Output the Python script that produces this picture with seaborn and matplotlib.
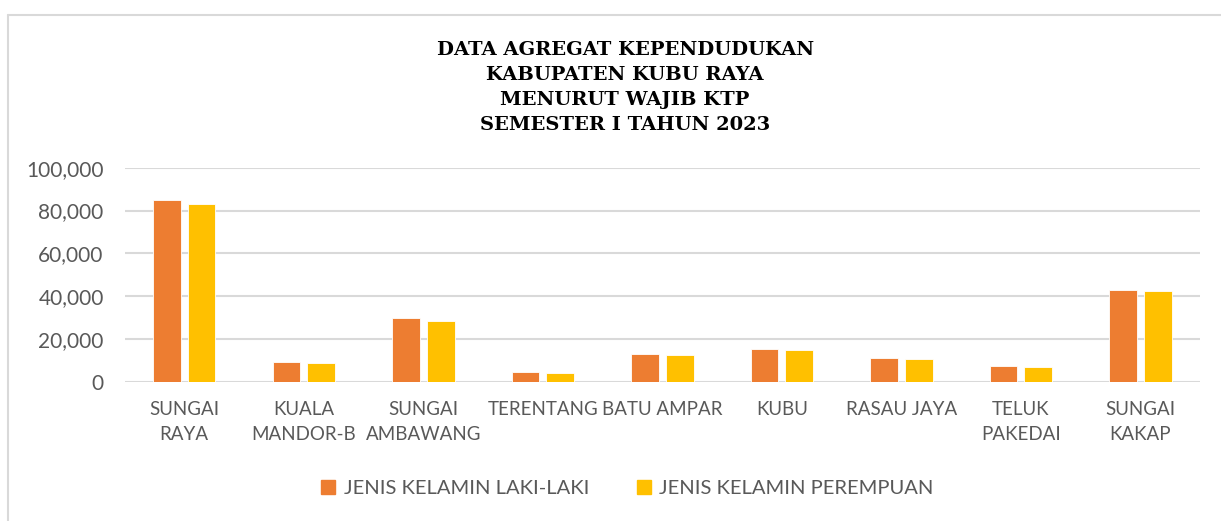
import pandas as pd
import matplotlib.pyplot as plt
import seaborn as sns
from matplotlib.lines import Line2D
from matplotlib.ticker import FuncFormatter

# Data
kecamatan = ["SUNGAI\nRAYA", "KUALA\nMANDOR-B", "SUNGAI\nAMBAWANG", "TERENTANG",
             "BATU AMPAR", "KUBU", "RASAU JAYA", "TELUK\nPAKEDAI", "SUNGAI\nKAKAP"]
laki_laki = [84900, 9500, 29800, 4700, 13100, 15400, 11100, 7300, 43000]
perempuan = [83000, 8700, 28500, 4300, 12600, 14800, 10800, 6900, 42500]
series_names = ["JENIS KELAMIN LAKI-LAKI", "JENIS KELAMIN PEREMPUAN"]
colors = ["#ED7D31", "#FFC000"]

title = "DATA AGREGAT KEPENDUDUKAN\nKABUPATEN KUBU RAYA\nMENURUT WAJIB KTP\nSEMESTER I TAHUN 2023"

# Long format for seaborn
df = pd.DataFrame({
    "kecamatan": kecamatan * 2,
    "jumlah": laki_laki + perempuan,
    "jenis": [series_names[0]] * len(kecamatan) + [series_names[1]] * len(kecamatan),
})

sns.set_style("white")
plt.rcParams["font.family"] = ["Lato", "DejaVu Sans"]
text_gray = "#595959"

fig = plt.figure(figsize=(12.21, 5.21), dpi=100)
ax = fig.add_axes([0.102, 0.267, 0.881, 0.411])

sns.barplot(data=df, x="kecamatan", y="jumlah", hue="jenis",
            palette=colors, saturation=1, width=0.58, gap=0.2, ax=ax,
            edgecolor="white", linewidth=0.6, legend=False, zorder=3)

ax.set_ylim(0, 100000)
ax.set_yticks(range(0, 100001, 20000))
ax.yaxis.set_major_formatter(FuncFormatter(lambda v, p: f"{int(v):,}"))
ax.grid(axis="y", color="#D9D9D9", linewidth=1.5, zorder=0)
ax.set_axisbelow(True)
for s in ax.spines.values():
    s.set_visible(False)
ax.set_xlabel("")
ax.set_ylabel("")
ax.tick_params(axis="both", length=0, labelcolor=text_gray)
ax.tick_params(axis="x", pad=14, labelsize=13.5)
ax.tick_params(axis="y", pad=15, labelsize=15)
for lbl in ax.get_xticklabels():
    lbl.set_linespacing(1.55)
    lbl.set_verticalalignment("top")

fig.text(0.512, 0.921, title, ha="center", va="top", fontsize=14,
         fontweight="heavy", family=["DejaVu Serif"], linespacing=1.5, color="black")

handles = [plt.Rectangle((0, 0), 1, 1, color=c) for c in colors]
fig.legend(handles, series_names, loc="center", bbox_to_anchor=(0.514, 0.063),
           ncol=2, frameon=False, fontsize=14.5, labelcolor=text_gray,
           handlelength=0.7, handleheight=0.7, handletextpad=0.4, columnspacing=2.4)

# Light chart-area border
fig.add_artist(Line2D([8 / 1221, 8 / 1221], [0, 1 - 15 / 521], transform=fig.transFigure,
                      color="#D9D9D9", linewidth=1.5))
fig.add_artist(Line2D([8 / 1221, 1], [1 - 15 / 521, 1 - 15 / 521], transform=fig.transFigure,
                      color="#D9D9D9", linewidth=1.5))

fig.savefig("out.png", dpi=100)
